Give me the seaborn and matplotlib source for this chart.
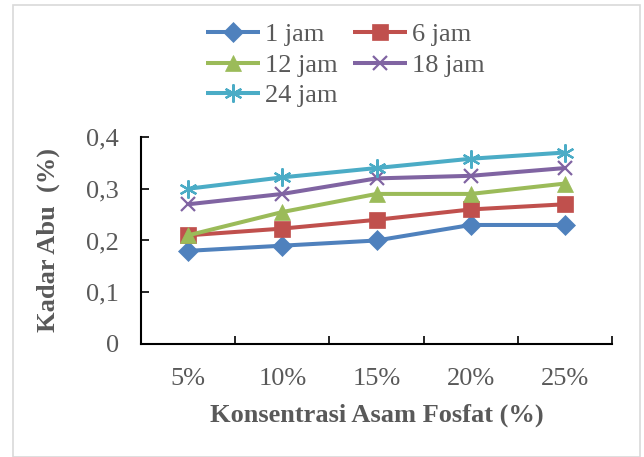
import matplotlib
matplotlib.use("Agg")
import matplotlib.pyplot as plt
import seaborn as sns
import pandas as pd
from matplotlib.patches import Rectangle
from matplotlib.ticker import FixedLocator

categories = ["5%", "10%", "15%", "20%", "25%"]
series_names = ["1 jam", "6 jam", "12 jam", "18 jam", "24 jam"]
jam1 = [0.18, 0.19, 0.20, 0.23, 0.23]
jam6 = [0.21, 0.223, 0.24, 0.26, 0.27]
jam12 = [0.21, 0.255, 0.29, 0.29, 0.31]
jam18 = [0.27, 0.29, 0.32, 0.325, 0.34]
jam24 = [0.30, 0.322, 0.34, 0.358, 0.37]
yticks = [0, 0.1, 0.2, 0.3, 0.4]
ytick_labels = ["0", "0,1", "0,2", "0,3", "0,4"]

colors = ["#4F81BD", "#C0504D", "#9BBB59", "#8064A2", "#4BACC6"]
markers = ["D", "s", "^", "x", (6, 2, 0)]
msizes = [10.5, 11, 12, 10.5, 13]

sns.set_style("white")
plt.rcParams["font.family"] = ["Liberation Serif", "DejaVu Serif"]
text_color = "#595959"

fig = plt.figure(figsize=(6.44, 4.57), dpi=100)
fig.patches.append(Rectangle((13 / 644, 0.0), 627 / 644, 1 - 5 / 457, transform=fig.transFigure,
                             fill=False, edgecolor="#d9d9d9", linewidth=1.2))
ax = fig.add_axes([141 / 644, 1 - 344 / 457, (612 - 141) / 644, (344 - 137) / 457])

for name, vals, c, m, ms in zip(series_names, [jam1, jam6, jam12, jam18, jam24], colors, markers, msizes):
    d = pd.DataFrame({"x": list(range(len(categories))), "y": vals})
    line_art = m in ("x",) or not isinstance(m, str)
    sns.lineplot(data=d, x="x", y="y", color=c, marker=m, markersize=ms,
                 markeredgecolor=c, markerfacecolor=c,
                 markeredgewidth=1.6 if line_art else 0.5,
                 linewidth=2.9, ax=ax, label=name, legend=False)

for line in ax.lines:
    line.set_solid_capstyle("butt")

ax.set_xlim(-0.5, 4.5)
ax.set_ylim(0, 0.4)
ax.xaxis.set_major_locator(FixedLocator(range(5)))
ax.set_xticklabels(categories)
ax.xaxis.set_minor_locator(FixedLocator([0.5, 1.5, 2.5, 3.5, 4.5]))
ax.tick_params(axis="x", which="major", length=0, pad=17, labelsize=19, labelcolor=text_color)
ax.tick_params(axis="x", which="minor", length=6, width=1.2, direction="in", color="black")
ax.set_yticks(yticks)
ax.set_yticklabels(ytick_labels)
ax.tick_params(axis="y", length=6, width=1.2, direction="in", pad=16, labelsize=19,
               labelcolor=text_color, color="black", left=True)
ax.tick_params(axis="x", bottom=True, which="both")
for s in ["top", "right"]:
    ax.spines[s].set_visible(False)
for s in ["left", "bottom"]:
    ax.spines[s].set_color("black")
    ax.spines[s].set_linewidth(1.5)

ax.set_xlabel("Konsentrasi Asam Fosfat (%)", fontsize=19, fontweight="bold", color=text_color)
ax.set_ylabel("Kadar Abu  (%)", fontsize=19, fontweight="bold", color=text_color)
ax.xaxis.set_label_coords(0.5, -(415 - 344) / 207, transform=ax.transAxes)
ax.yaxis.set_label_coords(-(141 - 48) / 471, 0.5, transform=ax.transAxes)
ax.xaxis.label.set_va("center")
ax.yaxis.label.set_va("center")

order = [0, 2, 4, 1, 3]
handles = ax.lines
leg = fig.legend([handles[i] for i in order], [series_names[i] for i in order],
                 loc="upper left", bbox_to_anchor=(206 / 644, 1 - 23 / 457), ncol=2,
                 frameon=False, fontsize=19, handlelength=2.05, handletextpad=0.2,
                 columnspacing=0.55, labelspacing=0.26, borderaxespad=0, borderpad=0)
for t in leg.get_texts():
    t.set_color(text_color)

fig.savefig("out.png", dpi=100)
